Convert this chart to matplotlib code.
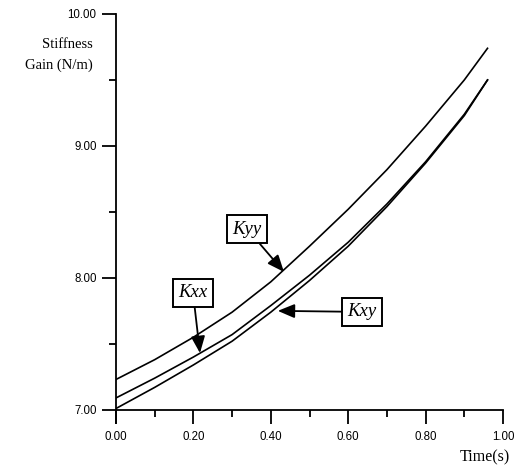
import numpy as np
import matplotlib
matplotlib.use("Agg")
import matplotlib.pyplot as plt
from matplotlib.ticker import MultipleLocator

# values
time_s = [0.0, 0.1, 0.2, 0.3, 0.4, 0.5, 0.6, 0.7, 0.8, 0.9, 0.96]
k_yy = [7.23, 7.38, 7.55, 7.74, 7.97, 8.24, 8.52, 8.82, 9.15, 9.50, 9.74]
k_xx = [7.09, 7.24, 7.40, 7.57, 7.79, 8.02, 8.27, 8.56, 8.88, 9.24, 9.50]
k_xy = [7.01, 7.17, 7.34, 7.52, 7.74, 7.98, 8.24, 8.54, 8.87, 9.23, 9.50]

x_ticks = [0.0, 0.2, 0.4, 0.6, 0.8, 1.0]
y_ticks = [7.0, 8.0, 9.0, 10.0]

serif = "Liberation Serif"
sans = "Liberation Sans"

fig = plt.figure(figsize=(5.26, 4.67), dpi=100)
ax = fig.add_axes([116 / 526, 1 - 423 / 467, 387 / 526, 409 / 467])

for ys in (k_yy, k_xx, k_xy):
    ax.plot(time_s, ys, color="black", lw=1.2)

ax.set_xlim(0.0, 1.0)
ax.set_ylim(6.9, 10.0)

ax.spines["top"].set_visible(False)
ax.spines["right"].set_visible(False)
ax.spines["bottom"].set_position(("data", 7.0))
ax.spines["left"].set_linewidth(1.3)
ax.spines["bottom"].set_linewidth(1.3)

ax.set_xticks(x_ticks)
ax.set_xticklabels(["%.2f" % v for v in x_ticks], fontfamily=sans, fontsize=8.3)
ax.set_yticks(y_ticks)
ax.set_yticklabels(["%.2f" % v for v in y_ticks], fontfamily=sans, fontsize=8.3)
ax.xaxis.set_minor_locator(MultipleLocator(0.1))
ax.yaxis.set_minor_locator(MultipleLocator(0.5))
ax.tick_params(which="major", direction="out", length=10, width=1.3, pad=5)
ax.tick_params(which="minor", direction="out", length=5, width=1.3)
ax.tick_params(axis="y", which="major", pad=4)

fig.text(93 / 526, 1 - 55 / 467, "Stiffness\nGain (N/m)", ha="right", va="center",
         fontfamily=serif, fontsize=10.5, linespacing=1.7)
fig.text(510 / 526, 1 - 457 / 467, "Time(s)", ha="right", va="center",
         fontfamily=serif, fontsize=11.5)

box = dict(boxstyle="square,pad=0.3", fc="white", ec="black", lw=1.4)
arrow = dict(arrowstyle="-|>,head_length=0.6,head_width=0.25", color="black", lw=1.3,
             mutation_scale=17, shrinkA=0, shrinkB=0)
labels = [("Kyy", (0.434, 8.045), (0.339, 8.37)),
          ("Kxx", (0.217, 7.43), (0.199, 7.886)),
          ("Kxy", (0.418, 7.75), (0.636, 7.742))]
for name, tip, pos in labels:
    ax.annotate(name, xy=tip, xytext=pos, ha="center", va="center",
                fontfamily=serif, fontstyle="italic", fontsize=13.5,
                bbox=box, arrowprops=arrow)

fig.savefig("out.png", dpi=100)
